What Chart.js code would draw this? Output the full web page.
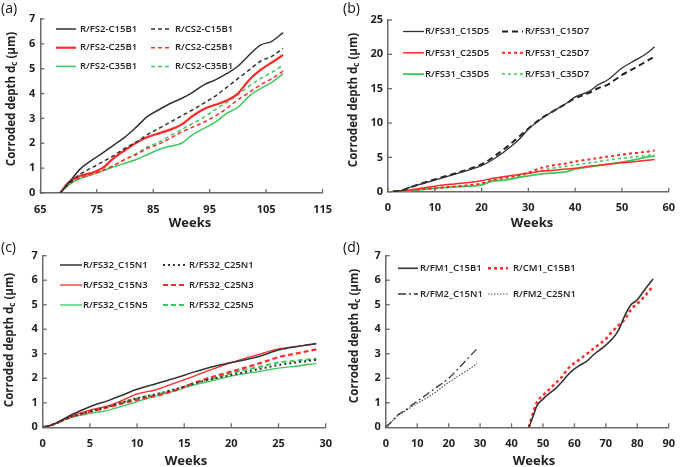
<!DOCTYPE html>
<html>
<head>
<meta charset="utf-8">
<script src="https://cdn.jsdelivr.net/npm/chart.js@4.4.1/dist/chart.umd.min.js"></script>
<style>
  html, body { margin: 0; padding: 0; background: #fff; }
  .p { position: absolute; }
</style>
</head>
<body>
<div class="p" style="left:0;top:0"><canvas id="ca" width="342" height="233"></canvas></div>
<div class="p" style="left:342px;top:0"><canvas id="cb" width="343" height="233"></canvas></div>
<div class="p" style="left:0;top:233px"><canvas id="cc" width="342" height="234"></canvas></div>
<div class="p" style="left:342px;top:233px"><canvas id="cd" width="343" height="234"></canvas></div>
<script>
// (a)
var weeksA = [68.5, 70, 72, 74, 76, 78, 80, 82, 84, 86, 88, 90, 92, 94, 96, 98, 100, 102, 104, 106, 108];
var fs2C15B1 = [0, 0.4, 0.95, 1.3, 1.6, 1.93, 2.25, 2.65, 3.08, 3.35, 3.6, 3.8, 4.05, 4.35, 4.55, 4.8, 5.1, 5.55, 5.95, 6.1, 6.45];
var cs2C15B1 = [0, 0.35, 0.75, 1.0, 1.25, 1.5, 1.8, 2.05, 2.35, 2.6, 2.85, 3.1, 3.35, 3.62, 3.9, 4.25, 4.6, 4.95, 5.3, 5.5, 5.82];
var fs2C25B1 = [0, 0.42, 0.68, 0.8, 1.0, 1.4, 1.72, 2.02, 2.25, 2.4, 2.55, 2.75, 3.1, 3.38, 3.55, 3.72, 4.0, 4.55, 4.95, 5.25, 5.55];
var cs2C25B1 = [0, 0.38, 0.6, 0.75, 0.9, 1.1, 1.35, 1.55, 1.8, 1.97, 2.2, 2.45, 2.65, 2.85, 3.1, 3.4, 3.75, 4.05, 4.35, 4.6, 4.9];
var fs2C35B1 = [0, 0.32, 0.58, 0.72, 0.88, 1.05, 1.2, 1.35, 1.55, 1.75, 1.88, 2.0, 2.35, 2.6, 2.85, 3.2, 3.45, 3.9, 4.2, 4.45, 4.8];
var cs2C35B1 = [0, 0.35, 0.6, 0.75, 0.9, 1.1, 1.35, 1.58, 1.85, 2.05, 2.3, 2.55, 2.8, 3.05, 3.35, 3.65, 3.95, 4.3, 4.6, 4.85, 5.15];

// (b)
var weeksB = [1, 3, 5, 10, 15, 20, 22, 25, 28, 30, 33, 35, 38, 40, 43, 45, 47, 50, 53, 55, 57];
var c15D5 = [0, 0.2, 0.7, 1.7, 2.7, 3.8, 4.5, 5.9, 7.6, 9.1, 10.7, 11.6, 12.8, 13.8, 14.6, 15.6, 16.3, 18.0, 19.2, 20.0, 21.1];
var c15D7 = [0, 0.2, 0.7, 1.8, 2.8, 4.0, 4.8, 6.3, 8.0, 9.2, 10.8, 11.6, 12.8, 13.6, 14.4, 15.1, 15.6, 17.0, 18.1, 18.9, 19.7];
var c25D5 = [0, 0.1, 0.3, 0.8, 1.2, 1.6, 1.9, 2.2, 2.5, 2.7, 3.0, 3.1, 3.3, 3.4, 3.7, 3.85, 4.0, 4.2, 4.4, 4.55, 4.7];
var c25D7 = [0, 0.05, 0.2, 0.5, 0.8, 1.2, 1.6, 2.1, 2.4, 2.8, 3.5, 3.8, 4.1, 4.4, 4.7, 4.9, 5.1, 5.4, 5.65, 5.8, 6.0];
var c35D5 = [0, 0.05, 0.15, 0.5, 0.75, 1.0, 1.5, 1.7, 2.1, 2.3, 2.6, 2.7, 2.9, 3.3, 3.6, 3.8, 4.0, 4.3, 4.7, 5.0, 5.2];
var c35D7 = [0, 0.05, 0.2, 0.45, 0.75, 1.1, 1.5, 1.9, 2.3, 2.6, 3.1, 3.4, 3.7, 3.9, 4.2, 4.4, 4.6, 4.85, 5.1, 5.25, 5.4];

// (c)
var weeksC = [0, 1, 3, 5, 7, 8.5, 10, 12, 14, 16, 18, 20, 23, 25, 27, 29];
var c15N1 = [0, 0.1, 0.5, 0.84, 1.1, 1.32, 1.55, 1.78, 2.0, 2.25, 2.47, 2.64, 2.9, 3.15, 3.3, 3.42];
var c25N1 = [0, 0.1, 0.42, 0.64, 0.85, 1.02, 1.18, 1.35, 1.55, 1.78, 1.98, 2.13, 2.38, 2.54, 2.65, 2.75];
var c15N3 = [0, 0.1, 0.45, 0.7, 0.88, 1.11, 1.36, 1.53, 1.8, 2.08, 2.37, 2.64, 2.98, 3.2, 3.3, 3.4];
var c25N3 = [0, 0.1, 0.42, 0.64, 0.82, 0.98, 1.12, 1.28, 1.5, 1.8, 2.06, 2.27, 2.61, 2.86, 3.02, 3.18];
var c15N5 = [0, 0.1, 0.4, 0.57, 0.7, 0.87, 1.05, 1.28, 1.48, 1.72, 1.9, 2.09, 2.28, 2.41, 2.5, 2.61];
var c25N5 = [0, 0.1, 0.42, 0.64, 0.85, 1.03, 1.18, 1.33, 1.52, 1.78, 1.99, 2.2, 2.47, 2.64, 2.72, 2.8];

// (d)
var weeksD1 = [45.5, 47, 48, 50, 52, 54, 56, 58, 60, 62, 64, 66, 68, 70, 72, 74, 76, 78, 80, 82, 85];
var fm1C15B1 = [0, 0.5, 0.86, 1.15, 1.38, 1.58, 1.85, 2.15, 2.38, 2.55, 2.7, 2.95, 3.15, 3.35, 3.6, 3.95, 4.55, 5.0, 5.2, 5.55, 6.05];
var cm1C15B1 = [0, 0.65, 1.0, 1.3, 1.55, 1.8, 2.05, 2.4, 2.62, 2.8, 3.0, 3.2, 3.4, 3.6, 3.9, 4.15, 4.4, 4.8, 5.05, 5.3, 5.75];
var weeksD2 = [0, 2, 4, 6, 8, 10, 12, 14, 16, 18, 20, 22, 24, 26, 29];
var fm2C15N1 = [0, 0.25, 0.52, 0.68, 0.88, 1.07, 1.24, 1.43, 1.62, 1.8, 2.0, 2.25, 2.52, 2.8, 3.2];
var fm2C25N1 = [0, 0.25, 0.5, 0.65, 0.82, 0.98, 1.12, 1.28, 1.45, 1.65, 1.83, 2.0, 2.17, 2.33, 2.6];

var DARK = "#333333", RED = "#ff2b2b", GREEN = "#3cc95c";
var FONT = '"Open Sans", "DejaVu Sans", sans-serif';

function pts(weeks, vals) {
    return weeks.map(function (w, i) { return { x: w, y: vals[i] }; });
}

function ds(label, weeks, vals, color, width, dash) {
    return {
        label: label,
        data: pts(weeks, vals),
        borderColor: color,
        borderWidth: width,
        borderDash: dash || [],
        pointRadius: 0,
        fill: false,
        cubicInterpolationMode: "monotone"
    };
}

// axis ticks pointing inward, titles, panel tag and the legend inside the plot
var decor = {
    id: "decor",
    afterDraw: function (chart, args, o) {
        var ctx = chart.ctx, a = chart.chartArea;
        var xs = chart.scales.x, ys = chart.scales.y;
        ctx.save();
        ctx.strokeStyle = "#6b6b6b";
        ctx.lineWidth = 1.3;
        ctx.setLineDash([]);
        xs.ticks.forEach(function (t) {
            var px = xs.getPixelForValue(t.value);
            ctx.beginPath(); ctx.moveTo(px, a.bottom); ctx.lineTo(px, a.bottom - 4); ctx.stroke();
        });
        ys.ticks.forEach(function (t) {
            var py = ys.getPixelForValue(t.value);
            ctx.beginPath(); ctx.moveTo(a.left, py); ctx.lineTo(a.left + 4, py); ctx.stroke();
        });

        ctx.fillStyle = "#222";
        ctx.textBaseline = "middle";
        ctx.textAlign = "center";
        ctx.font = "bold 13px " + FONT;
        ctx.fillText("Weeks", o.xtX, o.xtY);

        // y title with subscript c
        ctx.save();
        ctx.translate(o.ytX, o.ytY);
        ctx.rotate(-Math.PI / 2);
        var big = "bold 11.5px " + FONT, small = "bold 8px " + FONT;
        var p1 = "Corroded depth d", p2 = "c", p3 = " (\u00b5m)";
        ctx.font = big; var w1 = ctx.measureText(p1).width, w3 = ctx.measureText(p3).width;
        ctx.font = small; var w2 = ctx.measureText(p2).width;
        var x0 = -(w1 + w2 + w3) / 2;
        ctx.textAlign = "left";
        ctx.font = big; ctx.fillText(p1, x0, 0);
        ctx.font = small; ctx.fillText(p2, x0 + w1, 3);
        ctx.font = big; ctx.fillText(p3, x0 + w1 + w2, 0);
        ctx.restore();

        ctx.textAlign = "left";
        ctx.font = "14px " + FONT;
        ctx.fillStyle = "#111";
        ctx.fillText(o.tag, o.tagX, o.tagY);

        // legend, two columns
        ctx.font = "600 9.5px " + FONT;
        chart.data.datasets.forEach(function (d, i) {
            var col = i % 2, row = Math.floor(i / 2);
            var lx = col ? o.lx2 : o.lx1, tx = col ? o.tx2 : o.tx1;
            var y = o.ly + row * o.dy;
            ctx.strokeStyle = d.borderColor;
            ctx.lineWidth = d.borderWidth;
            ctx.setLineDash(d.borderDash);
            ctx.beginPath(); ctx.moveTo(lx, y); ctx.lineTo(lx + o.len, y); ctx.stroke();
            ctx.fillStyle = "#222";
            ctx.fillText(d.label, tx, y);
        });
        ctx.restore();
    }
};

function makeChart(id, datasets, box, xr, yr, deco) {
    var cv = document.getElementById(id);
    return new Chart(cv, {
        type: "line",
        data: { datasets: datasets },
        plugins: [decor],
        options: {
            responsive: false,
            animation: false,
            layout: { padding: { left: 0, right: cv.width - box.right, top: box.top, bottom: 0 } },
            plugins: { legend: { display: false }, tooltip: { enabled: false }, decor: deco },
            scales: {
                x: {
                    type: "linear", min: xr[0], max: xr[1],
                    ticks: { stepSize: xr[2], color: "#222", padding: 10, font: { family: FONT, size: 11, weight: "bold" } },
                    grid: { display: false, drawTicks: false },
                    border: { display: true, color: "#6b6b6b", width: 1.5 },
                    afterFit: function (s) { s.height = cv.height - box.bottom; }
                },
                y: {
                    min: yr[0], max: yr[1],
                    ticks: { stepSize: yr[2], color: "#222", padding: 5, font: { family: FONT, size: 11, weight: "bold" } },
                    grid: { display: false, drawTicks: false },
                    border: { display: true, color: "#6b6b6b", width: 1.5 },
                    afterFit: function (s) { s.width = box.left; }
                }
            }
        }
    });
}

makeChart("ca", [
    ds("R/FS2-C15B1", weeksA, fs2C15B1, DARK, 1.5),
    ds("R/CS2-C15B1", weeksA, cs2C15B1, DARK, 1.5, [4, 3]),
    ds("R/FS2-C25B1", weeksA, fs2C25B1, RED, 2.2),
    ds("R/CS2-C25B1", weeksA, cs2C25B1, RED, 1.5, [4, 3]),
    ds("R/FS2-C35B1", weeksA, fs2C35B1, GREEN, 1.5),
    ds("R/CS2-C35B1", weeksA, cs2C35B1, GREEN, 1.5, [4, 3])
], { left: 40.3, right: 325.3, top: 19, bottom: 193 }, [65, 115, 10], [0, 7, 1],
{ xtX: 190, xtY: 223, ytX: 12, ytY: 99, tag: "(a)", tagX: 1, tagY: 9,
  lx1: 56, tx1: 80, lx2: 151, tx2: 175, len: 20, ly: 29, dy: 18.7 });

makeChart("cb", [
    ds("R/FS31_C15D5", weeksB, c15D5, DARK, 1.3),
    ds("R/FS31_C15D7", weeksB, c15D7, "#222", 2, [6, 4]),
    ds("R/FS31_C25D5", weeksB, c25D5, RED, 1.5),
    ds("R/FS31_C25D7", weeksB, c25D7, RED, 2, [3, 3]),
    ds("R/FS31_C35D5", weeksB, c35D5, GREEN, 1.8),
    ds("R/FS31_C35D7", weeksB, c35D7, GREEN, 1.5, [3, 3])
], { left: 46, right: 332.7, top: 20, bottom: 191.7 }, [0, 60, 10], [0, 25, 5],
{ xtX: 190, xtY: 223, ytX: 12, ytY: 100, tag: "(b)", tagX: 1, tagY: 9,
  lx1: 61, tx1: 83, lx2: 160, tx2: 183, len: 21, ly: 31.5, dy: 21.3 });

makeChart("cc", [
    ds("R/FS32_C15N1", weeksC, c15N1, DARK, 1.5),
    ds("R/FS32_C25N1", weeksC, c25N1, DARK, 2, [2, 3]),
    ds("R/FS32_C15N3", weeksC, c15N3, RED, 1.3),
    ds("R/FS32_C25N3", weeksC, c25N3, RED, 2.2, [5, 3]),
    ds("R/FS32_C15N5", weeksC, c15N5, GREEN, 1.3),
    ds("R/FS32_C25N5", weeksC, c25N5, GREEN, 2, [5, 3])
], { left: 42.7, right: 329, top: 22.7, bottom: 194.3 }, [0, 30, 5], [0, 7, 1],
{ xtX: 186, xtY: 228, ytX: 10, ytY: 107, tag: "(c)", tagX: 1, tagY: 15,
  lx1: 60, tx1: 83, lx2: 163, tx2: 189, len: 22, ly: 32, dy: 20 });

makeChart("cd", [
    ds("R/FM1_C15B1", weeksD1, fm1C15B1, DARK, 1.6),
    ds("R/CM1_C15B1", weeksD1, cm1C15B1, RED, 2.5, [3, 3]),
    ds("R/FM2_C15N1", weeksD2, fm2C15N1, DARK, 1.3, [8, 3, 2, 3]),
    ds("R/FM2_C25N1", weeksD2, fm2C25N1, "#555", 1.2, [1.5, 1.5])
], { left: 43.8, right: 336, top: 22.7, bottom: 194.3 }, [0, 90, 10], [0, 7, 1],
{ xtX: 192, xtY: 228, ytX: 13, ytY: 103, tag: "(d)", tagX: 1, tagY: 15,
  lx1: 56, tx1: 78, lx2: 146, tx2: 171, len: 20, ly: 35.3, dy: 25.7 });
</script>
</body>
</html>
